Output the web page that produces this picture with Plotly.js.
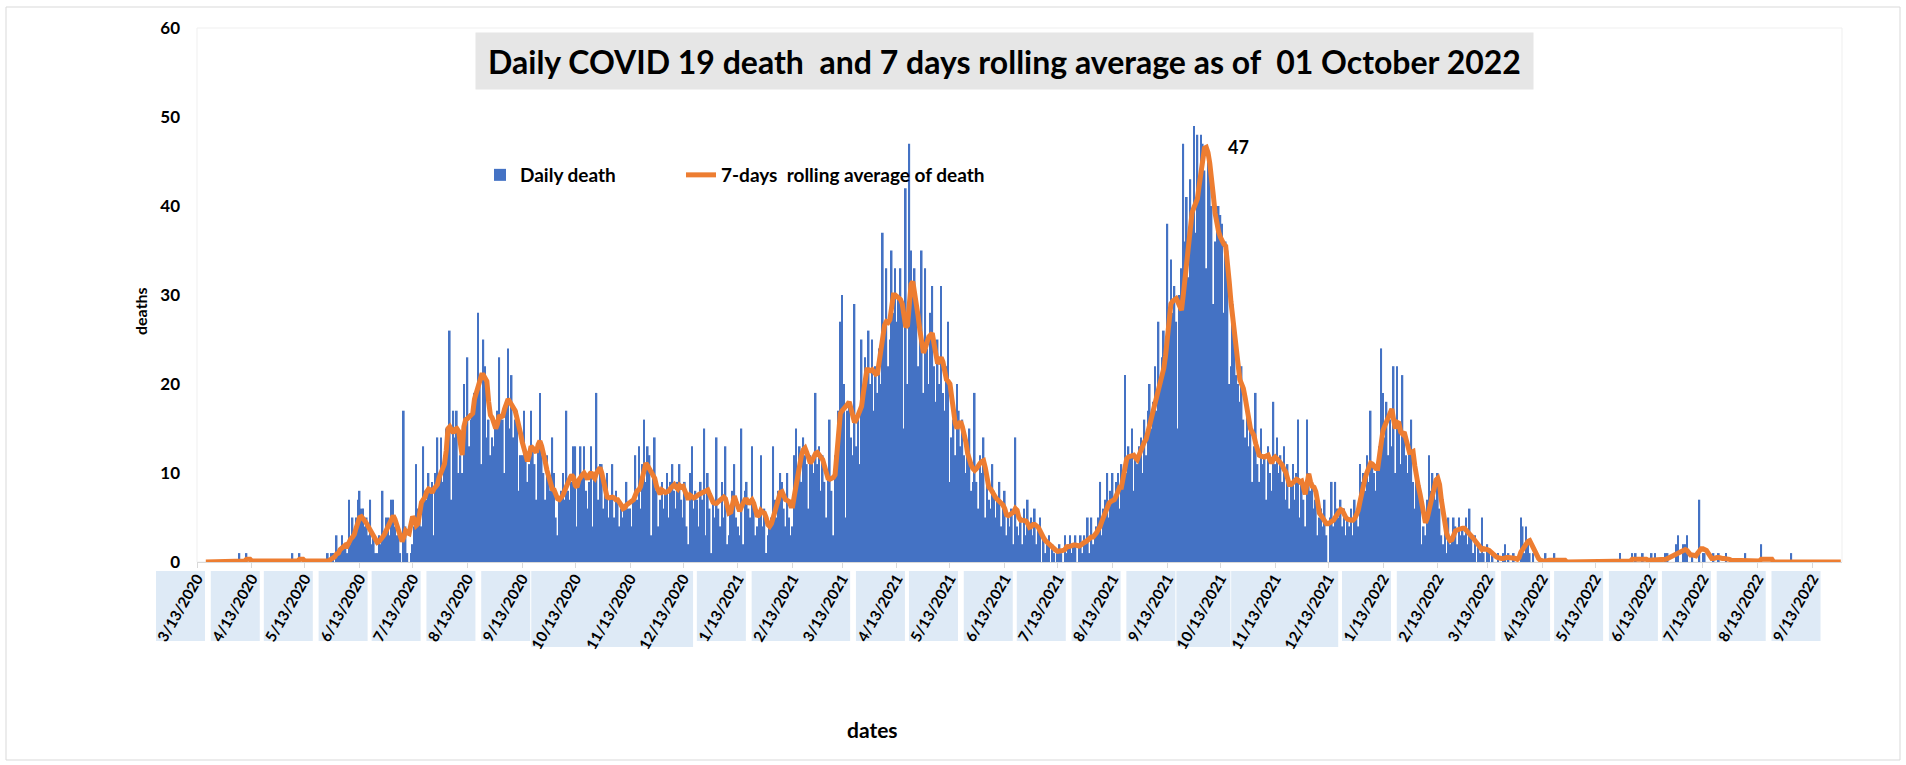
<!DOCTYPE html>
<html>
<head>
<meta charset="utf-8">
<script src="https://cdn.plot.ly/plotly-3.0.1.min.js"></script>
<style>
html,body{margin:0;padding:0;background:#ffffff;}
#chart{width:1906px;height:765px;}
</style>
</head>
<body>
<div id="chart"></div>
<script>
// ---------------- DATA ----------------
const firstDay = '2020-03-18';   // first daily value
const chartTitle = 'Daily COVID 19 death  and 7 days rolling average as of  01 October 2022';
const seriesNames = ['Daily death', '7-days  rolling average of death'];
const axisTitles = {x: 'dates', y: 'deaths'};

// daily deaths, 18 Mar 2020 .. 31 Dec 2020
const deaths2020 = [
0,0,0,0,0, 0,0,0,0,0, 0,0,0,0,0, 0,0,0,0,
1, 0,0,0, 1,
0,0,0,0,0, 0,0,0,0,0, 0,0,0,0,0, 0,0,0,0,0, 0,0,0,0,0,
1, 0,0,0, 1,
0,0,0,0,0, 0,0,0,0,0, 0,0,0,0,
0,1,0,1,1,0,3,1,1,3,2,2,1,7,2,5,3,5,7,
8,6,6,4,5,3,7,2,3,1,1,3,2,8,3,5,5,3,7,7,4,3,3,1,0,17,4,1,0,1,
2,4,11,6,5,4,13,8,7,10,8,9,3,10,14,9,14,9,12,15,13,26,7,17,14,17,10,12,10,20,16,
23,13,16,17,19,19,28,20,11,25,22,14,16,12,14,13,15,17,23,16,16,10,18,24,15,21,14,16,17,8,12,
12,17,12,9,11,17,13,11,7,13,19,12,10,7,12,10,8,14,10,5,3,7,8,10,7,17,8,7,9,13,
13,4,9,13,10,13,8,6,9,13,4,10,19,7,11,11,6,8,10,5,7,11,5,8,7,4,6,5,6,9,6,
6,4,7,12,7,13,6,11,16,9,13,12,3,10,14,8,4,7,9,6,8,10,5,9,11,8,6,9,11,7,
5,9,4,2,10,13,6,8,7,4,9,7,15,3,10,6,1,7,5
];
// daily deaths, 2021
const deaths2021 = [
14,6,4,9,5,13,2,3,6,8,11,5,
4,3,15,2,8,9,6,5,13,7,3,4,5,12,4,6,1,3,4,5,13,7,5,8,10,9,6,4,10,5,3,
4,12,15,10,13,9,14,12,11,6,12,11,10,19,11,13,8,12,9,5,10,16,8,3,12,14,17,27,30,
20,5,17,18,14,12,29,13,16,11,25,18,23,21,26,20,25,17,22,19,24,20,37,26,33,22,25,35,28,33,
27,30,33,28,15,42,20,47,35,30,33,28,22,25,35,19,33,24,20,28,31,22,18,25,20,31,19,17,22,27,9,
14,16,12,20,17,13,16,12,10,13,15,8,9,19,9,6,12,10,14,5,9,7,6,11,8,5,7,9,4,6,
8,3,5,4,6,2,14,4,3,5,2,6,3,7,4,5,3,6,2,4,5,0,3,1,2,3,0,2,1,0,1,
2,1,0,3,1,2,3,1,2,3,0,2,3,1,3,2,5,1,5,2,3,4,5,9,3,6,7,10,5,8,
10,7,9,10,6,11,9,21,10,13,12,15,8,12,11,13,14,10,16,12,17,20,15,18,22,17,27,20,23,26,24,
38,26,34,28,31,27,15,30,33,47,36,41,32,43,38,49,37,48,42,48,47,44,33,46,44,40,29,36,40,40,
39,38,28,36,35,20,22,29,25,21,20,18,22,16,14,17,13,15,9,13,19,11,9,15,11,12,7,13,10,8,18,
11,14,10,12,9,13,7,11,6,9,11,7,10,16,5,9,7,4,16,10,8,9,6,7,3,5,6,4,7,3,
0,5,9,4,9,6,5,7,4,6,3,5,4,6,3,7,5,4,11
];
// daily deaths, 1 Jan 2022 .. 29 Sep 2022
const deaths2022 = [
9,10,8,12,9,17,11,10,8,11,13,24,
19,14,18,12,16,13,22,10,22,15,11,21,14,12,10,13,16,9,6,10,8,7,2,4,3,7,12,8,10,8,7,
10,6,3,2,4,1,5,2,3,5,4,2,5,3,4,3,5,2,6,3,1,3,0,2,1,5,1,0,2,
1,0,1,0,0,1,0,0,1,2,0,1,0,0,1,0,0,0,5,4,1,4,2,1,0,1,0,0,0,0,0,
0,1,0,0,0,0,1,0,0,0,0,0,0,0,0,0,0,0,0,0,0,0,0,0,0,0,0,0,0,0,
0,0,0,0,0,0,0,0,0,0,0,0,0,1,0,0,0,0,0,0,1,0,1,0,0,0,1,0,0,0,0,
1,0,1,0,0,0,0,0,1,1,0,0,0,0,2,3,0,0,2,2,3,0,0,1,0,0,0,7,0,1,
1,0,0,0,0,1,0,0,1,0,0,0,1,0,0,0,0,0,0,0,0,0,0,1,0,0,0,0,0,0,0,
0,2,0,0,0,0,0,0,0,0,0,0,0,0,0,0,0,0,1,0,0,0,0,0,0,0,0,0,0,0,0,0,0,0,0,0,0,0,0,0,0,0,0,0,0,0,0
];

// 7-days rolling average, 18 Mar 2020 .. 31 Dec 2020
const avg2020 = [
0,0,0,0,0, 0,0,0,0,0, 0,0,0,0,0, 0,0,0,0,
0.1,0.1,0.1,0.1, 0.3,0.3,0.3, 0.1,0.1,0.1,0.1,
0,0,0,0,0, 0,0,0,0,0, 0,0,0,0,0, 0,0,0,0,
0.1,0.1,0.1,0.1, 0.3,0.3,0.3, 0.1,0.1,0.1,0.1,
0,0,0,0,0, 0,0,0,
0,0.1,0.2,0.3,0.5,0.6,0.9,1.0,1.4,1.6,1.6,1.9,1.8,2.4,2.6,2.8,3.1,3.8,4.5,
5.0,5.1,4.9,4.6,4.3,3.9,3.5,3.2,3.0,2.3,2.2,2.3,2.5,2.8,3.1,3.5,4.0,4.5,4.9,5.2,4.8,4.2,3.5,2.8,2.3,2.8,3.5,3.3,3.2,4.2,
5.1,4.8,4.1,4.3,5.8,6.7,7.0,7.3,7.9,8.2,8.1,7.8,8.2,8.4,8.7,9.5,10.0,10.2,11.0,12.5,15.0,15.2,14.8,14.5,14.9,15.0,14.7,13.0,12.0,15.2,16.0,
16.1,16.3,16.5,16.7,18.3,19.0,19.5,20.3,21.0,21.0,20.5,20.3,18.0,16.5,16.2,15.6,15.0,15.5,16.5,16.3,16.4,17.2,18.0,18.3,18.0,17.7,17.4,17.0,16.2,15.0,14.5,
13.5,12.8,12.0,11.3,12.0,13.0,12.8,12.6,12.3,13.2,13.6,13.0,12.3,11.3,10.3,9.5,8.8,8.2,8.1,7.6,7.1,7.0,7.2,7.5,8.0,8.6,9.0,9.4,9.8,9.5,
8.6,8.4,9.2,9.6,9.8,10.0,9.6,9.3,9.8,10.1,9.6,9.4,10.0,10.4,10.6,10.0,9.2,8.0,7.3,7.2,7.3,7.3,7.2,7.0,7.0,6.8,6.4,6.0,6.1,6.4,6.6,
6.7,6.9,7.0,7.5,8.0,8.1,8.5,9.5,10.5,11.1,10.8,10.5,10.1,9.8,9.4,8.5,7.8,7.6,8.1,8.0,7.8,7.9,8.0,8.3,8.6,8.7,8.4,8.2,8.6,8.4,
8.5,8.0,7.4,7.0,7.5,7.3,7.2,7.3,7.5,7.6,7.7,7.8,7.9,8.0,8.1,7.6,7.0,6.7,6.6
];
// 7-days rolling average, 2021
const avg2021 = [
6.6,6.8,7.0,7.2,7.3,7.1,6.3,5.5,5.6,6.6,7.4,6.8,
6.3,5.7,6.2,6.8,7.0,7.0,6.5,6.8,7.0,6.6,5.8,5.1,5.3,5.8,5.6,5.5,5.0,4.2,4.0,4.3,5.0,5.7,6.5,7.2,7.8,7.9,7.3,7.0,6.9,6.8,6.3,
6.3,7.5,8.8,10.0,11.0,12.0,12.6,12.8,12.3,11.5,11.1,11.4,11.9,12.2,12.3,12.0,11.7,11.5,10.8,10.0,9.4,9.3,9.4,9.5,9.8,12.5,15.5,16.7,17.0,
17.2,17.4,17.7,18.0,17.2,16.2,15.7,16.0,16.6,17.0,17.5,19.0,20.5,21.6,21.6,21.5,21.6,21.3,21.1,21.2,22.5,24.0,25.5,26.6,27.0,26.9,27.2,28.5,30.0,30.0,
29.8,29.6,29.5,29.0,27.5,26.4,26.6,28.5,31.2,31.5,30.4,29.0,27.6,26.0,24.4,23.5,24.0,24.8,25.3,25.5,25.7,24.5,22.8,22.3,22.6,23.0,22.5,21.2,20.5,20.3,20.0,
18.5,16.8,15.6,15.0,15.5,15.8,15.2,14.4,13.5,12.2,11.3,10.9,10.5,10.3,10.5,10.9,11.1,11.3,11.4,10.6,9.3,8.4,8.2,7.8,7.5,7.2,7.0,6.8,6.6,6.4,
6.0,5.3,5.2,5.3,5.4,5.6,6.0,5.8,5.0,4.7,4.7,4.6,4.6,4.3,3.9,4.0,4.2,4.2,4.1,3.9,3.5,3.0,2.7,2.4,2.2,2.0,1.8,1.6,1.4,1.3,1.2,
1.2,1.2,1.3,1.4,1.7,1.7,1.8,1.8,1.9,1.9,1.8,1.8,1.9,2.1,2.2,2.3,2.5,2.6,2.8,2.8,3.0,3.3,3.7,4.0,4.6,5.2,5.7,6.2,6.6,6.8,
6.9,7.0,7.4,8.0,8.4,8.4,9.5,11.0,11.6,11.8,11.9,12.0,12.0,11.7,11.5,12.0,12.6,13.1,13.5,13.8,14.6,15.5,16.2,16.9,17.6,18.2,19.0,19.8,20.6,21.8,23.2,
25.0,27.5,29.0,29.3,29.5,29.6,29.2,28.7,28.3,30.0,32.0,34.0,36.0,38.0,39.3,39.8,40.2,40.8,42.3,43.8,45.2,46.5,46.6,46.0,44.8,43.3,41.2,39.2,38.0,37.1,
36.5,36.0,35.7,35.5,34.0,31.5,29.2,27.5,25.8,24.3,22.0,20.5,20.0,19.5,18.5,17.0,15.8,15.0,14.6,14.2,13.3,12.5,12.0,11.9,11.8,11.8,11.9,12.0,11.5,11.1,11.6,
11.8,11.6,11.4,11.3,10.9,10.4,10.1,9.4,8.7,8.7,8.9,9.0,9.3,9.2,9.0,9.1,8.3,7.6,8.8,9.9,9.0,8.5,8.4,7.9,6.8,5.5,5.2,4.8,4.5,4.3,
4.3,4.4,4.6,4.7,5.0,5.3,5.6,5.9,5.8,5.3,5.0,4.8,4.7,4.7,4.7,4.9,5.3,5.8,6.8
];
// 7-days rolling average, 1 Jan 2022 .. 29 Sep 2022
const avg2022 = [
7.9,8.9,9.5,10.1,10.6,11.1,11.0,10.6,10.5,10.5,12.0,14.0,
14.8,15.3,15.8,16.4,17.0,17.2,16.0,15.0,15.7,15.6,14.6,14.4,14.6,13.9,13.0,12.3,12.3,12.4,10.8,9.3,8.5,7.6,6.3,4.8,4.4,4.9,6.0,6.8,7.5,8.3,9.2,
9.4,8.7,7.0,5.6,4.3,3.2,2.7,2.4,2.5,3.0,3.5,3.6,3.7,3.8,3.8,3.8,3.6,3.4,3.2,3.0,2.7,2.4,2.2,1.9,1.6,1.4,1.5,1.5,1.4,
1.3,1.1,1.0,0.8,0.6,0.5,0.4,0.4,0.4,0.5,0.5,0.5,0.5,0.5,0.5,0.4,0.3,0.5,1.1,1.5,1.7,2.0,2.3,2.4,2.0,1.6,1.1,0.6,0.4,0.2,0.1,
0.1,0.1,0.2,0.2,0.2,0.2,0.2,0.2,0.2,0.2,0.2,0.2,0.2,0,0,0,0,0,0,0,0,0,0,0,0,0,0,0,0,0,
0,0,0,0,0,0,0,0,0,0,0,0,0.1,0.1,0.1,0.1,0.1,0.1,0.1,0.1,0.3,0.3,0.3,0.4,0.4,0.4,0.4,0.3,0.3,0.2,0.2,
0.3,0.3,0.3,0.3,0.3,0.3,0.3,0.3,0.3,0.4,0.5,0.7,0.8,0.9,1.0,1.1,1.1,1.2,1.3,1.4,1.3,1.0,0.8,0.8,0.7,0.7,1.0,1.4,1.5,1.5,
1.4,1.3,1.0,0.6,0.4,0.4,0.5,0.5,0.5,0.4,0.4,0.4,0.4,0.3,0.3,0.2,0.2,0.1,0.1,0.1,0.1,0.1,0.1,0.1,0.1,0.1,0.1,0.1,0.1,0.1,0.1,
0.1,0.3,0.3,0.3,0.3,0.3,0.3,0.3,0,0,0,0,0,0,0,0,0,0,0.1,0.1,0.1,0.1,0.1,0.1,0.1,0,0,0,0,0,0,0,0,0,0,0,0,0,0,0,0,0,0,0,0,0,0
];

// month ticks and the shaded label boxes (groups of tick dates, tall = long labels)
const labelBoxes = [
  {ticks:['2020-03-13']}, {ticks:['2020-04-13']}, {ticks:['2020-05-13']}, {ticks:['2020-06-13']},
  {ticks:['2020-07-13']}, {ticks:['2020-08-13']}, {ticks:['2020-09-13']},
  {ticks:['2020-10-13','2020-12-13'], tall:true},
  {ticks:['2021-01-13']}, {ticks:['2021-02-13','2021-03-13']}, {ticks:['2021-04-13']},
  {ticks:['2021-05-13']}, {ticks:['2021-06-13']}, {ticks:['2021-07-13']}, {ticks:['2021-08-13']},
  {ticks:['2021-09-13']}, {ticks:['2021-10-13'], tall:true}, {ticks:['2021-11-13','2021-12-13'], tall:true},
  {ticks:['2022-01-13']}, {ticks:['2022-02-13','2022-03-13']}, {ticks:['2022-04-13']},
  {ticks:['2022-05-13']}, {ticks:['2022-06-13']}, {ticks:['2022-07-13']}, {ticks:['2022-08-13']},
  {ticks:['2022-09-13']}
];

// ---------------- BUILD ----------------
const daily = deaths2020.concat(deaths2021, deaths2022);
const rolling = avg2020.concat(avg2021, avg2022);
const t0 = Date.parse(firstDay + 'T00:00:00Z');
const dates = daily.map((_, i) => new Date(t0 + i * 86400000).toISOString().slice(0, 10));

const xRange = ['2020-03-13', '2022-09-29 16:33'];
const W = 1906, H = 765;
const M = {l: 197, r: 64, t: 28, b: 203};
const PW = W - M.l - M.r, PH = H - M.t - M.b;
const rx0 = Date.parse(xRange[0] + 'T00:00:00Z');
const rx1 = Date.parse(xRange[1].replace(' ', 'T') + ':00Z');
const fracX = d => (Date.parse(d + 'T00:00:00Z') - rx0) / (rx1 - rx0);
const pxX = px => px / PW;            // pixel offset -> paper units
const pxY = px => px / PH;

const FONT = 'Lato, "Open Sans", "DejaVu Sans", sans-serif';

const shapes = [];
// outer chart frame
shapes.push({type:'rect', xref:'paper', yref:'paper', layer:'below',
  x0: pxX(6 - M.l), x1: pxX(1900 - M.l), y0: -pxY(760 - M.t - PH), y1: 1 + pxY(M.t - 7),
  line:{color:'#d9d9d9', width:1}, fillcolor:'rgba(0,0,0,0)'});
// plot-area frame
shapes.push({type:'rect', xref:'paper', yref:'paper', layer:'below',
  x0:0, x1:1, y0:0, y1:1, line:{color:'#efefef', width:1}, fillcolor:'rgba(0,0,0,0)'});
// tick-label boxes
labelBoxes.forEach(b => {
  const first = b.ticks[0], last = b.ticks[b.ticks.length - 1];
  shapes.push({type:'rect', xref:'paper', yref:'paper', layer:'below',
    x0: fracX(first) - pxX(b.tall ? 44 : 41),
    x1: fracX(last) + pxX(b.tall ? 10 : 8),
    y0: -pxY(b.tall ? 85 : 79), y1: -pxY(9),
    line:{width:0}, fillcolor:'#deeaf6'});
});

// peak of the rolling average for its data label
let peakIdx = 0;
rolling.forEach((v, i) => { if (v > rolling[peakIdx]) peakIdx = i; });

const legendFont = {family: FONT, size:19, weight:700, color:'#000000'};

const traces = [
  {type:'bar', name: seriesNames[0], x: dates, y: daily, legend:'legend',
   marker:{color:'#4472C4', line:{width:0}}, hoverinfo:'x+y'},
  {type:'scatter', mode:'lines', name: seriesNames[1], x: dates, y: rolling, legend:'legend2',
   line:{color:'#ED7D31', width:5, shape:'linear'}, hoverinfo:'x+y'}
];

const layout = {
  width: W, height: H,
  margin: M,
  paper_bgcolor:'#ffffff', plot_bgcolor:'#ffffff',
  font:{family: FONT, color:'#000000'},
  bargap: 0.05,
  showlegend: true,
  legend:{orientation:'h', x: pxX(480 - M.l), xanchor:'left', y: 1 - pxY(175 - M.t), yanchor:'middle',
    font: legendFont, bgcolor:'rgba(0,0,0,0)'},
  legend2:{orientation:'h', x: pxX(681 - M.l), xanchor:'left', y: 1 - pxY(175 - M.t), yanchor:'middle',
    font: legendFont, bgcolor:'rgba(0,0,0,0)'},
  xaxis:{type:'date', range: xRange, tick0:'2020-03-13', dtick:'M1', tickformat:'%-m/%-d/%Y',
    tickangle:-60, tickfont:{family: FONT, size:15, weight:700, color:'#000000'},
    ticks:'outside', ticklen:5, tickcolor:'#d9d9d9', ticklabelstandoff:-4,
    showline:true, linecolor:'#d9d9d9', linewidth:1,
    showgrid:false, zeroline:false, fixedrange:true},
  yaxis:{range:[0,60], dtick:10, tick0:0, showgrid:false, zeroline:false, showline:false,
    ticks:'', ticklabelstandoff:16, tickfont:{family: FONT, size:17, weight:700, color:'#000000'},
    fixedrange:true},
  shapes: shapes,
  annotations:[
    {text: chartTitle, xref:'paper', yref:'paper', x: pxX(1004 - M.l), y: 1 - pxY(61 - M.t),
     xanchor:'center', yanchor:'middle', showarrow:false, bgcolor:'#e6e6e6', width:1055, height:54,
     font:{family: FONT, size:32, weight:700, color:'#000000'}},
    {text: axisTitles.x, xref:'paper', yref:'paper', x: pxX(872 - M.l), y: -pxY(729 - M.t - PH),
     xanchor:'center', yanchor:'middle', showarrow:false,
     font:{family: FONT, size:21, weight:700, color:'#000000'}},
    {text: axisTitles.y, xref:'paper', yref:'paper', x: pxX(140 - M.l), y: 1 - pxY(311 - M.t),
     xanchor:'center', yanchor:'middle', showarrow:false, textangle:-90,
     font:{family: FONT, size:16, weight:700, color:'#000000'}},
    {text: String(Math.round(rolling[peakIdx])), x: dates[peakIdx], y: rolling[peakIdx],
     xref:'x', yref:'y', xanchor:'left', yanchor:'middle', xshift:20, yshift:0, showarrow:false,
     font:{family: FONT, size:18, weight:700, color:'#000000'}}
  ]
};

Plotly.newPlot('chart', traces, layout, {displayModeBar:false, responsive:false});
</script>
</body>
</html>
